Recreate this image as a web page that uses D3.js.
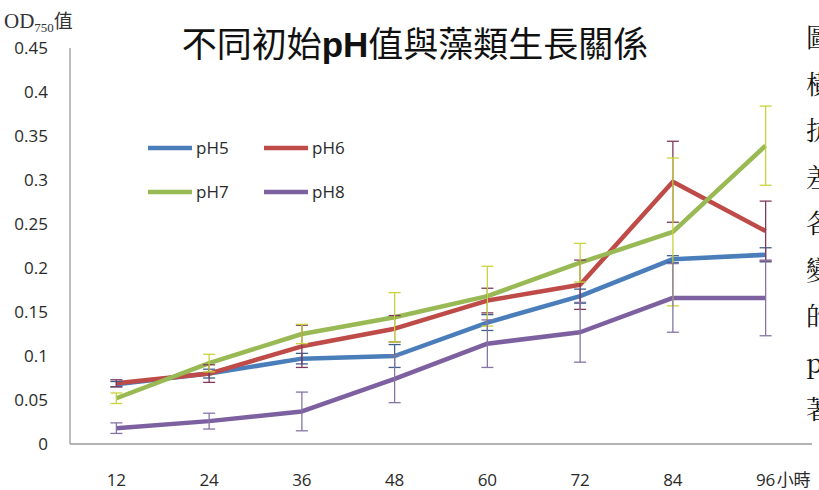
<!DOCTYPE html>
<html>
<head>
<meta charset="utf-8">
<script src="https://cdn.jsdelivr.net/npm/d3@7/dist/d3.min.js"></script>
<style>
  html, body { margin: 0; padding: 0; background: #fff; overflow: hidden; }
  svg { display: block; }
</style>
</head>
<body>
<svg id="chart" width="819" height="490"></svg>
<script>
// Incubation time (hours)
const hours = ["12", "24", "36", "48", "60", "72", "84", "96"];
// Y axis tick values
const yTicks = [0, 0.05, 0.1, 0.15, 0.2, 0.25, 0.3, 0.35, 0.4, 0.45];
const seriesNames = ["pH5", "pH6", "pH7", "pH8"];

// Mean OD750 per initial pH
const pH5 = [0.068, 0.080, 0.097, 0.100, 0.138, 0.168, 0.210, 0.215];
const pH6 = [0.069, 0.080, 0.111, 0.131, 0.163, 0.181, 0.298, 0.242];
const pH7 = [0.052, 0.092, 0.125, 0.144, 0.168, 0.206, 0.241, 0.339];
const pH8 = [0.018, 0.026, 0.037, 0.074, 0.114, 0.127, 0.166, 0.166];

// Standard deviation (error bar half-length)
const pH5Err = [0.003, 0.005, 0.006, 0.013, 0.009, 0.008, 0.004, 0.008];
const pH6Err = [0.004, 0.010, 0.024, 0.015, 0.014, 0.028, 0.046, 0.034];
const pH7Err = [0.006, 0.010, 0.011, 0.028, 0.034, 0.022, 0.084, 0.045];
const pH8Err = [0.006, 0.009, 0.022, 0.027, 0.027, 0.034, 0.039, 0.043];

// Side paragraph characters (clipped at the page edge)
const sideText = ["圖", "橫", "抗", "差", "各", "變", "的", "p", "著"];

const lineColors = ["#4a7ebb", "#be4b48", "#98b954", "#7d60a0"];
const errColors = ["#3f5f8f", "#7e3a5c", "#c9d43c", "#8574a6"];

const series = [
  { name: seriesNames[0], values: pH5, err: pH5Err },
  { name: seriesNames[1], values: pH6, err: pH6Err },
  { name: seriesNames[2], values: pH7, err: pH7Err },
  { name: seriesNames[3], values: pH8, err: pH8Err }
];

const svg = d3.select("#chart");
const axisFont = "'Open Sans', 'Noto Sans', sans-serif";

const x = d3.scalePoint().domain(hours).range([70, 812]).padding(0.5);
const y = d3.scaleLinear().domain([0, 0.45]).range([444, 48]);

// Axes lines
svg.append("line").attr("x1", 70).attr("x2", 70).attr("y1", y(0.45)).attr("y2", y(0))
  .attr("stroke", "#9a9a9a").attr("stroke-width", 1.3);
svg.append("line").attr("x1", 70).attr("x2", 812).attr("y1", y(0)).attr("y2", y(0))
  .attr("stroke", "#9a9a9a").attr("stroke-width", 1.3);

// Y tick labels
svg.append("g").selectAll("text").data(yTicks).join("text")
  .attr("x", 48).attr("y", d => y(d)).attr("dy", "0.35em")
  .attr("text-anchor", "end")
  .attr("font-family", axisFont).attr("font-size", 17).attr("fill", "#2a2a2a")
  .text(d => d3.format("")(d));

// X tick labels
svg.append("g").selectAll("text").data(hours).join("text")
  .attr("x", d => x(d)).attr("y", 486)
  .attr("text-anchor", "middle")
  .attr("font-family", axisFont).attr("font-size", 17).attr("fill", "#2a2a2a")
  .text(d => d);

// Axis unit labels
svg.append("text").attr("x", x("96") + 11).attr("y", 486)
  .attr("font-family", "'Noto Sans CJK TC', sans-serif").attr("font-size", 17).attr("fill", "#2a2a2a")
  .text("小時");

const od = svg.append("text").attr("x", 4).attr("y", 28)
  .attr("font-family", "'Liberation Serif', serif").attr("font-size", 21).attr("fill", "#333");
od.append("tspan").text("OD");
od.append("tspan").attr("font-size", 13).attr("dy", 4).text("750");
od.append("tspan").attr("dy", -4).attr("font-family", "'Noto Sans CJK TC', sans-serif").attr("font-size", 19).text("值");

// Title
const title = svg.append("text").attr("x", 415).attr("y", 57).attr("text-anchor", "middle")
  .attr("font-family", "'Noto Sans CJK TC', sans-serif").attr("font-size", 35).attr("fill", "#111");
title.append("tspan").attr("font-weight", 400).text("不同初始");
title.append("tspan").attr("font-weight", 700).attr("font-family", "'Liberation Sans', sans-serif").text("pH");
title.append("tspan").attr("font-weight", 400).text("值與藻類生長關係");

// Lines
const line = d3.line().x((d, i) => x(hours[i])).y(d => y(d));
svg.append("g").selectAll("path").data(series).join("path")
  .attr("d", d => line(d.values))
  .attr("fill", "none")
  .attr("stroke", (d, i) => lineColors[i])
  .attr("stroke-width", 4.5)
  .attr("stroke-linejoin", "round");

// Error bars
const capW = 6;
series.forEach((s, si) => {
  const g = svg.append("g").attr("stroke", errColors[si]).attr("stroke-width", 1.3);
  s.values.forEach((v, i) => {
    const cx = x(hours[i]);
    const lo = y(v - s.err[i]), hi = y(v + s.err[i]);
    g.append("line").attr("x1", cx).attr("x2", cx).attr("y1", lo).attr("y2", hi);
    g.append("line").attr("x1", cx - capW).attr("x2", cx + capW).attr("y1", lo).attr("y2", lo);
    g.append("line").attr("x1", cx - capW).attr("x2", cx + capW).attr("y1", hi).attr("y2", hi);
  });
});

// Legend
const legendPos = [[148, 148], [264, 148], [148, 192], [264, 192]];
const lg = svg.append("g").selectAll("g").data(series).join("g")
  .attr("transform", (d, i) => `translate(${legendPos[i][0]},${legendPos[i][1]})`);
lg.append("line").attr("x1", 0).attr("x2", 44).attr("y1", 0).attr("y2", 0)
  .attr("stroke", (d, i) => lineColors[i]).attr("stroke-width", 4.5);
lg.append("text").attr("x", 48).attr("y", 0).attr("dy", "0.35em")
  .attr("font-family", axisFont).attr("font-size", 17).attr("fill", "#2a2a2a")
  .text(d => d.name);

// Side paragraph characters
svg.append("g").selectAll("text").data(sideText).join("text")
  .attr("x", 806).attr("y", (d, i) => 47 + i * 46.5)
  .attr("font-family", "'Noto Serif CJK TC', 'Noto Sans CJK TC', serif").attr("font-size", 26)
  .attr("fill", "#111")
  .text(d => d);
</script>
</body>
</html>
